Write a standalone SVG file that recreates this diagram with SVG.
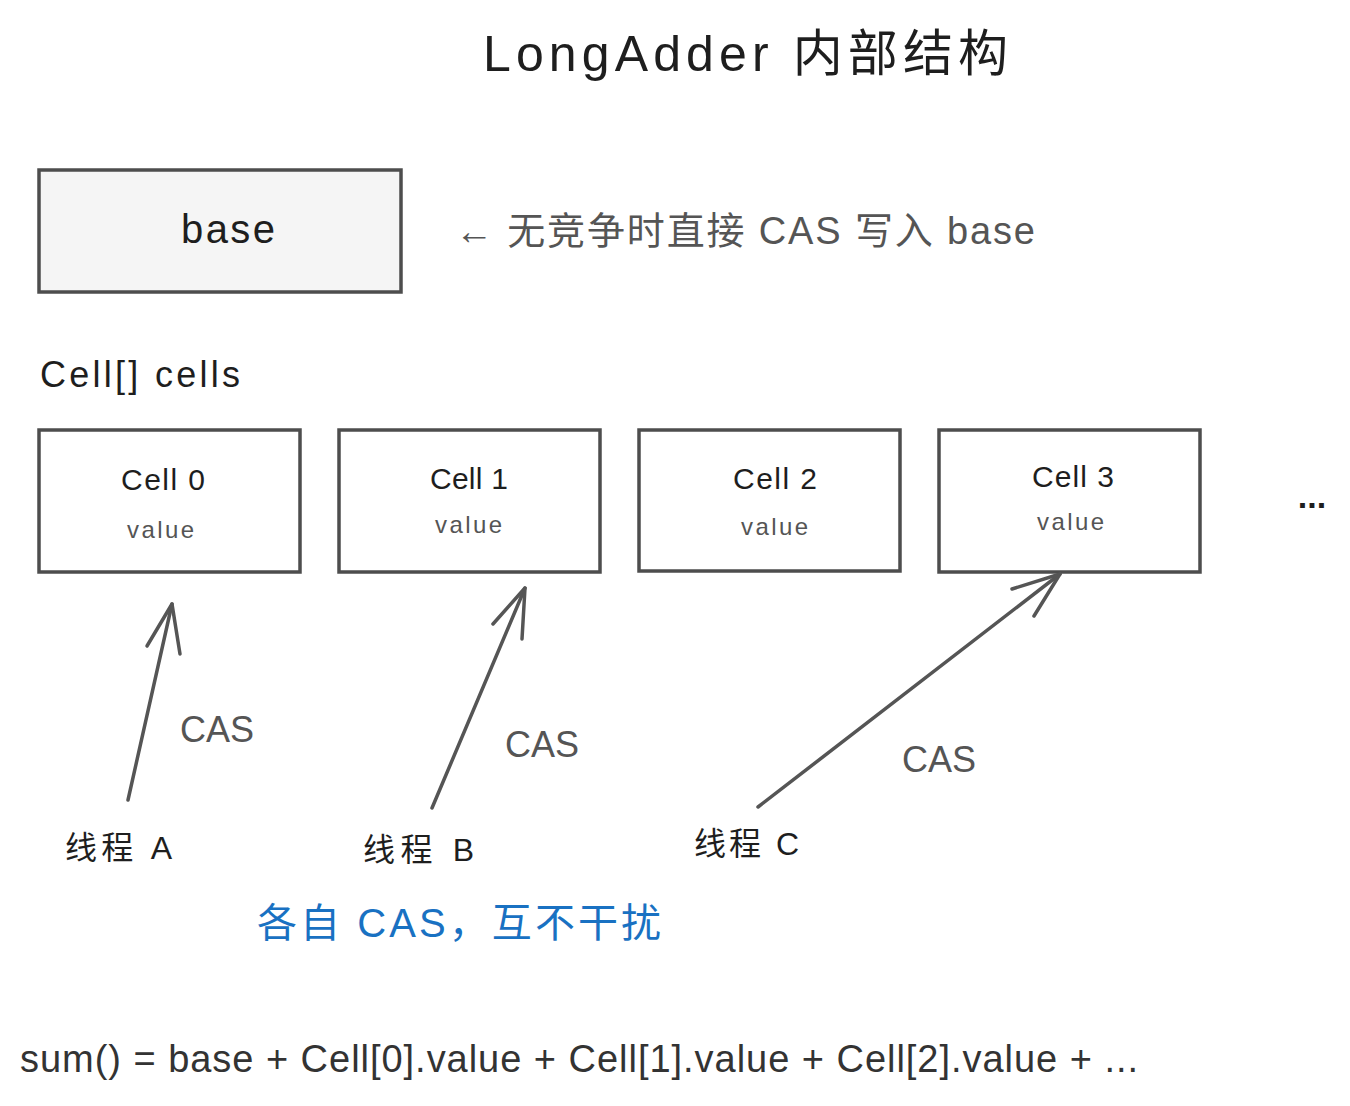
<svg xmlns="http://www.w3.org/2000/svg" width="1350" height="1106" viewBox="0 0 1350 1106">
<style>
.box{fill:#ffffff;stroke:#4d4d4d;stroke-width:3.5;}
.base{fill:#f5f5f5;stroke:#4d4d4d;stroke-width:3.5;}
.t{font-family:"Liberation Sans","Noto Sans CJK SC",sans-serif;}
.dark{fill:#1e1e1e;}
.gray{fill:#555555;}
.blue{fill:#1971c2;}
.conn{fill:none;stroke:#555555;stroke-width:3.5;stroke-linecap:round;stroke-linejoin:round;}
</style>
<rect width="1350" height="1106" fill="#ffffff"/>
<g id="title"><text class="t dark" x="483" y="71" font-size="50" textLength="525">LongAdder 内部结构</text></g>
<g id="base"><rect class="base" x="39" y="170" width="362" height="122"/><text class="t dark" x="181" y="243" font-size="40" textLength="94">base</text></g>
<g id="base-note"><text class="t gray" x="455" y="244" font-size="38" textLength="580">← 无竞争时直接 CAS 写入 base</text></g>
<g id="cells-label"><text class="t dark" x="40" y="387" font-size="36" textLength="200">Cell[] cells</text></g>
<g id="cell0"><rect class="box" x="39" y="430" width="261" height="142"/><text class="t dark" x="121" y="490" font-size="30" textLength="84">Cell 0</text><text class="t gray" x="127" y="538" font-size="24" textLength="67">value</text></g>
<g id="cell1"><rect class="box" x="339" y="430" width="261" height="142"/><text class="t dark" x="430" y="489" font-size="30" textLength="78">Cell 1</text><text class="t gray" x="435" y="533" font-size="24" textLength="67">value</text></g>
<g id="cell2"><rect class="box" x="639" y="430" width="261" height="141"/><text class="t dark" x="733" y="489" font-size="30" textLength="84">Cell 2</text><text class="t gray" x="741" y="535" font-size="24" textLength="67">value</text></g>
<g id="cell3"><rect class="box" x="939" y="430" width="261" height="142"/><text class="t dark" x="1032" y="487" font-size="30" textLength="82">Cell 3</text><text class="t gray" x="1037" y="530" font-size="24" textLength="67">value</text></g>
<g id="more"><text class="t dark" x="1312" y="508" font-size="34" font-weight="bold" text-anchor="middle">...</text></g>
<g id="connectors">
<path class="conn" d="M128 800 L172 604"/><path class="conn" d="M147 646 L172 604 L180 654"/>
<path class="conn" d="M432 808 L525 588"/><path class="conn" d="M493 624 L525 588 L522 639"/>
<path class="conn" d="M758 807 L1060 574"/><path class="conn" d="M1012 589 L1060 574 L1034 616"/>
</g>
<g id="labels">
<text class="t gray" x="180" y="742" font-size="36">CAS</text>
<text class="t gray" x="505" y="757" font-size="36">CAS</text>
<text class="t gray" x="902" y="772" font-size="36">CAS</text>
</g>
<g id="threadA"><text class="t dark" x="65" y="859" font-size="32" textLength="107">线程 A</text></g>
<g id="threadB"><text class="t dark" x="363" y="861" font-size="32" textLength="111">线程 B</text></g>
<g id="threadC"><text class="t dark" x="694" y="855" font-size="32" textLength="105">线程 C</text></g>
<g id="note"><text class="t blue" x="257" y="937" font-size="40" textLength="404">各自 CAS，互不干扰</text></g>
<g id="sum"><text x="20" y="1072" font-size="38" fill="#333333" font-family="Liberation Sans, sans-serif" textLength="1118">sum() = base + Cell[0].value + Cell[1].value + Cell[2].value + ...</text></g>
</svg>
